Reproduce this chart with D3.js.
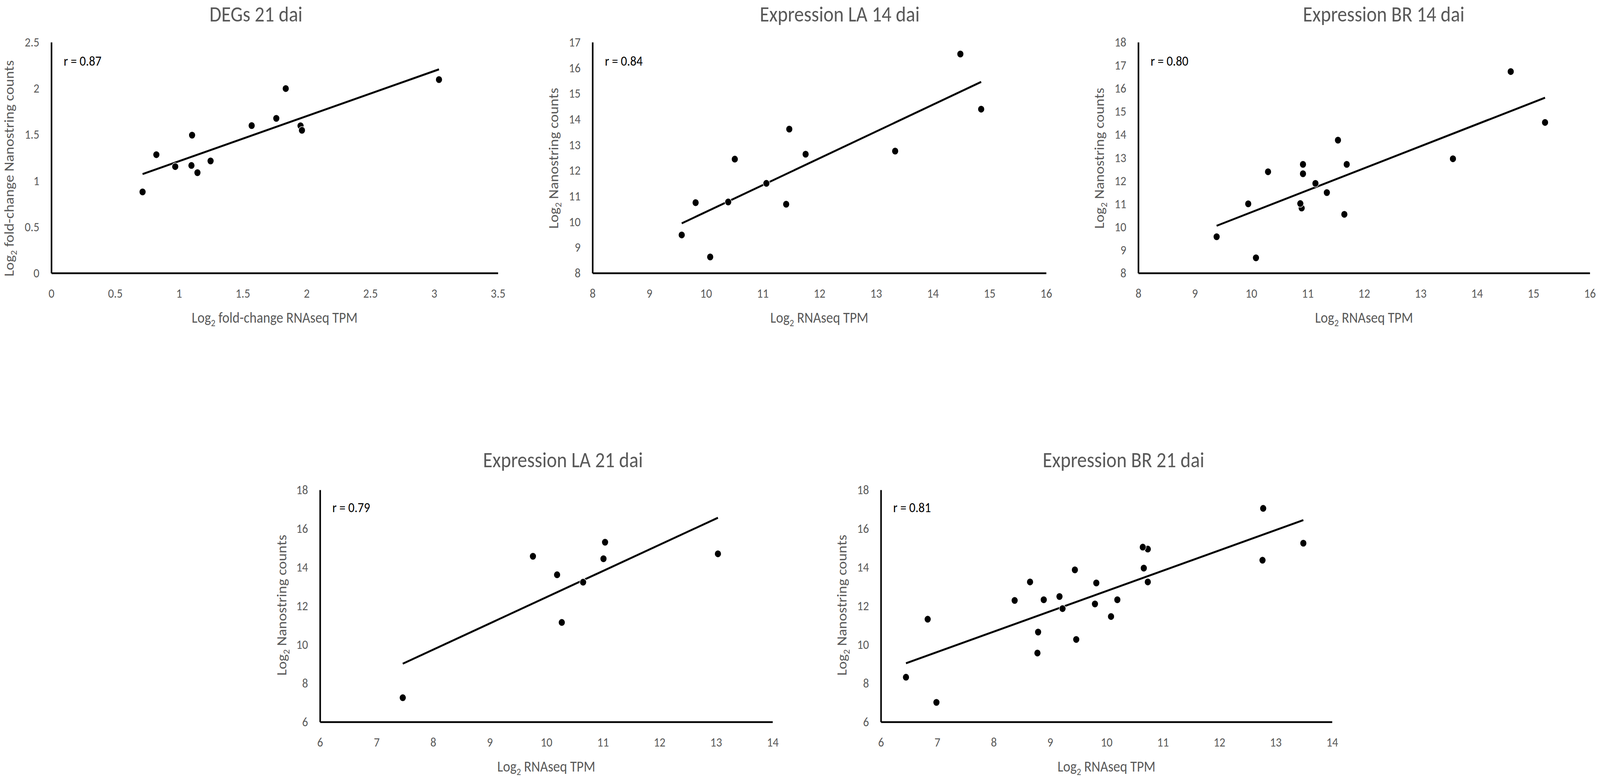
<!DOCTYPE html>
<html lang="en">

<head>
  <meta charset="UTF-8">
  <title>RNAseq vs Nanostring</title>
  <script src="https://d3js.org/d3.v7.min.js"></script>
  <style>
    html,
    body {
      margin: 0;
      padding: 0;
      overflow: hidden;
      background: #fff;
    }

    svg {
      display: block;
    }

    text {
      font-family: Carlito, Calibri, Lato, sans-serif;
    }
  </style>
</head>

<body>
  <script>
    // chart values
    const titles = ["DEGs 21 dai", "Expression LA 14 dai", "Expression BR 14 dai", "Expression LA 21 dai", "Expression BR 21 dai"];
    const rLabels = ["r = 0.87", "r = 0.84", "r = 0.80", "r = 0.79", "r = 0.81"];
    const xTitles = ["fold-change RNAseq TPM", "RNAseq TPM", "RNAseq TPM", "RNAseq TPM", "RNAseq TPM"];
    const yTitles = ["fold-change Nanostring counts", "Nanostring counts", "Nanostring counts", "Nanostring counts", "Nanostring counts"];

    const xTickLabels = [
      ["0", "0.5", "1", "1.5", "2", "2.5", "3", "3.5"],
      ["8", "9", "10", "11", "12", "13", "14", "15", "16"],
      ["8", "9", "10", "11", "12", "13", "14", "15", "16"],
      ["6", "7", "8", "9", "10", "11", "12", "13", "14"],
      ["6", "7", "8", "9", "10", "11", "12", "13", "14"]
    ];
    const yTickLabels = [
      ["0", "0.5", "1", "1.5", "2", "2.5"],
      ["8", "9", "10", "11", "12", "13", "14", "15", "16", "17"],
      ["8", "9", "10", "11", "12", "13", "14", "15", "16", "17", "18"],
      ["6", "8", "10", "12", "14", "16", "18"],
      ["6", "8", "10", "12", "14", "16", "18"]
    ];

    const degs21X = [0.715, 0.823, 0.971, 1.098, 1.103, 1.145, 1.248, 1.570, 1.763, 1.837, 1.953, 1.964, 3.038];
    const degs21Y = [0.879, 1.282, 1.153, 1.165, 1.493, 1.087, 1.214, 1.597, 1.675, 1.998, 1.595, 1.546, 2.095];

    const la14X = [9.573, 9.818, 10.075, 10.393, 10.509, 11.066, 11.415, 11.470, 11.758, 13.337, 14.487, 14.854];
    const la14Y = [9.486, 10.745, 8.629, 10.771, 12.441, 11.497, 10.684, 13.612, 12.633, 12.755, 16.540, 14.390];

    const br14X = [9.388, 9.948, 10.085, 10.299, 10.895, 10.871, 10.918, 10.918, 11.139, 11.341, 11.538, 11.651, 11.693, 13.575, 14.599, 15.207];
    const br14Y = [9.573, 11.000, 8.660, 12.388, 10.816, 11.010, 12.709, 12.301, 11.883, 11.485, 13.757, 10.544, 12.709, 12.951, 16.728, 14.524];

    const la21X = [7.463, 9.764, 10.191, 10.274, 10.651, 11.011, 11.039, 13.034];
    const la21Y = [7.251, 14.566, 13.609, 11.145, 13.226, 14.439, 15.294, 14.694];

    const br21X = [6.445, 6.830, 6.985, 8.372, 8.645, 8.776, 8.788, 8.888, 9.167, 9.221, 9.440, 9.464, 9.796, 9.820, 10.081, 10.193, 10.733, 10.644, 10.662, 10.733, 12.767, 12.779, 13.491];
    const br21Y = [8.311, 11.311, 7.009, 12.281, 13.239, 9.562, 10.647, 12.319, 12.485, 11.860, 13.864, 10.264, 12.102, 13.188, 11.451, 12.319, 14.937, 15.039, 13.954, 13.239, 14.362, 17.043, 15.243];

    const seriesX = [degs21X, la14X, br14X, la21X, br21X];
    const seriesY = [degs21Y, la14Y, br14Y, la21Y, br21Y];

    // where each chart sits on the page
    const layout = [
      { x0: 146, x1: 1416, y0: 108, y1: 699, titleX: 728, titleY: 35, yLabX: 25, yLabY: 431, rDy: 47 },
      { x0: 1685, x1: 2975, y0: 108, y1: 699, titleX: 2388, titleY: 35, yLabX: 1573, yLabY: 405, rDy: 47 },
      { x0: 3237, x1: 4521, y0: 108, y1: 699, titleX: 3935, titleY: 35, yLabX: 3125, yLabY: 405, rDy: 47 },
      { x0: 910, x1: 2197, y0: 1254, y1: 1848, titleX: 1601, titleY: 1176, yLabX: 800, yLabY: 1549, rDy: 44 },
      { x0: 2505, x1: 3788, y0: 1254, y1: 1848, titleX: 3195, titleY: 1176, yLabX: 2393, yLabY: 1549, rDy: 44 }
    ];

    const grey = "#595959";
    const tickSize = 33;
    const axisTitleSize = 38.5;

    const width = 4550;
    const height = 1989;

    // drawing coordinates are the 4550 x 1989 figure; stretched to fill the window
    const svg = d3.select("body")
      .append("svg")
      .attr("viewBox", `0 0 ${width} ${height}`)
      .attr("preserveAspectRatio", "none")
      .style("width", "100vw")
      .style("height", "100vh");

    svg.append("rect")
      .attr("width", width)
      .attr("height", height)
      .attr("fill", "#fff");

    function linearFit(xs, ys) {
      const mx = d3.mean(xs), my = d3.mean(ys);
      let sxy = 0, sxx = 0;
      xs.forEach((x, i) => {
        sxy += (x - mx) * (ys[i] - my);
        sxx += (x - mx) * (x - mx);
      });
      const slope = sxy / sxx;
      return { slope: slope, intercept: my - slope * mx };
    }

    // "Log" + subscript 2 + rest
    function logLabel(sel, rest) {
      sel.append("tspan").text("Log");
      sel.append("tspan").text("2").attr("font-size", axisTitleSize * 0.65).attr("dy", 9);
      sel.append("tspan").text(" " + rest).attr("dy", -9);
    }

    function drawPanel(i) {
      const box = layout[i];
      const xs = seriesX[i], ys = seriesY[i];
      const xVals = xTickLabels[i].map(Number);
      const yVals = yTickLabels[i].map(Number);

      const xScale = d3.scaleLinear()
        .domain(d3.extent(xVals))
        .range([box.x0, box.x1]);
      const yScale = d3.scaleLinear()
        .domain(d3.extent(yVals))
        .range([box.y1, box.y0]);

      const g = svg.append("g");

      const xAxis = d3.axisBottom(xScale)
        .tickValues(xVals)
        .tickFormat((d, j) => xTickLabels[i][j])
        .tickSize(0)
        .tickPadding(40);
      const yAxis = d3.axisLeft(yScale)
        .tickValues(yVals)
        .tickFormat((d, j) => yTickLabels[i][j])
        .tickSize(0)
        .tickPadding(34);

      const gx = g.append("g")
        .attr("transform", `translate(0,${box.y1})`)
        .call(xAxis);
      const gy = g.append("g")
        .attr("transform", `translate(${box.x0},0)`)
        .call(yAxis);

      [gx, gy].forEach(a => {
        a.select(".domain").attr("stroke", "#000").attr("stroke-width", 4.5);
        a.selectAll("text")
          .attr("font-size", tickSize)
          .attr("fill", grey)
          .style("font-family", "Carlito, Calibri, Lato, sans-serif");
      });

      // trendline over the data's x range
      const fit = linearFit(xs, ys);
      const [minX, maxX] = d3.extent(xs);
      g.append("line")
        .attr("x1", xScale(minX))
        .attr("y1", yScale(fit.intercept + fit.slope * minX))
        .attr("x2", xScale(maxX))
        .attr("y2", yScale(fit.intercept + fit.slope * maxX))
        .attr("stroke", "#000")
        .attr("stroke-width", 5);

      g.selectAll("circle")
        .data(xs.map((x, j) => [x, ys[j]]))
        .enter()
        .append("circle")
        .attr("cx", d => xScale(d[0]))
        .attr("cy", d => yScale(d[1]))
        .attr("r", 9.5)
        .attr("fill", "#000")
        .attr("stroke", "#fff")
        .attr("stroke-width", 1.5);

      g.append("text")
        .attr("x", box.titleX)
        .attr("y", box.titleY)
        .attr("dy", "0.36em")
        .attr("text-anchor", "middle")
        .attr("font-size", 55)
        .attr("fill", grey)
        .text(titles[i]);

      g.append("text")
        .attr("x", box.x0 + 35)
        .attr("y", box.y0 + box.rDy)
        .attr("dy", "0.36em")
        .attr("font-size", 35)
        .attr("fill", "#000")
        .text(rLabels[i]);

      g.append("text")
        .attr("x", (box.x0 + box.x1) / 2)
        .attr("y", box.y1 + 113)
        .attr("dy", "0.36em")
        .attr("text-anchor", "middle")
        .attr("font-size", axisTitleSize)
        .attr("fill", grey)
        .call(logLabel, xTitles[i]);

      g.append("text")
        .attr("transform", `translate(${box.yLabX},${box.yLabY}) rotate(-90)`)
        .attr("dy", "0.36em")
        .attr("text-anchor", "middle")
        .attr("font-size", axisTitleSize)
        .attr("fill", grey)
        .call(logLabel, yTitles[i]);
    }

    titles.forEach((t, i) => drawPanel(i));
  </script>
</body>

</html>
